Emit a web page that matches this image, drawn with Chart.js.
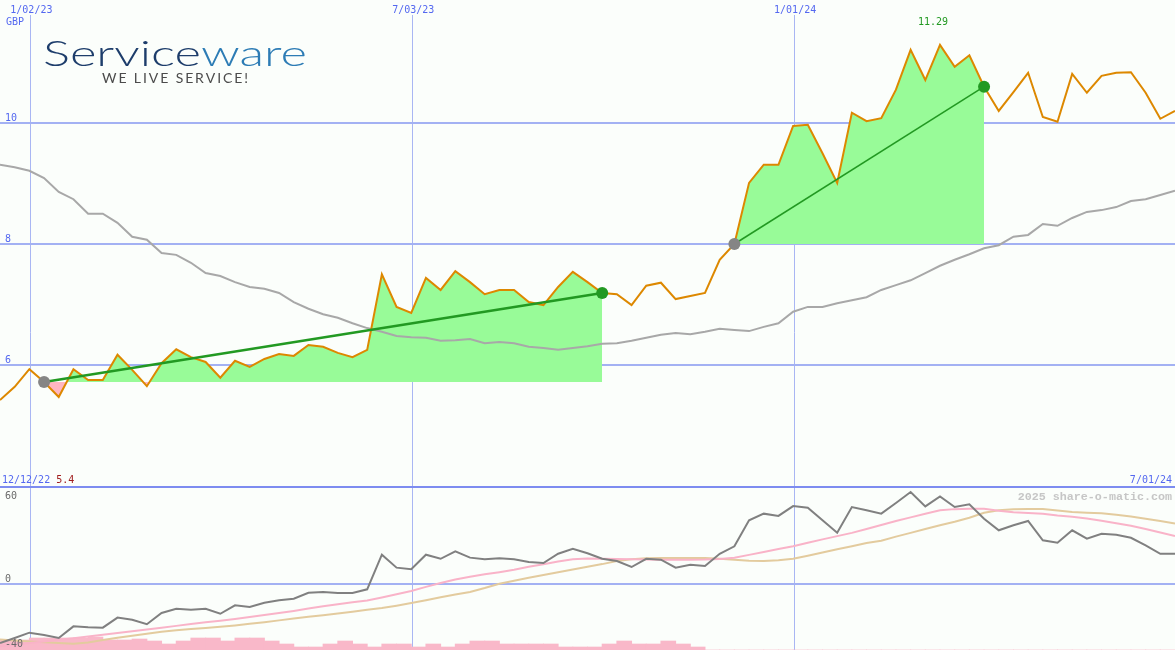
<!DOCTYPE html>
<html><head><meta charset="utf-8">
<script src="https://cdn.jsdelivr.net/npm/chart.js@4.4.1/dist/chart.umd.min.js"></script>
<style>html,body{margin:0;padding:0;background:#fbfefb;overflow:hidden}canvas{display:block}</style>
</head><body>
<canvas id="c" width="1175" height="650"></canvas>
<script>
// ---- data (weekly) ----
const dates = ['12/19/22','12/26/22','1/02/23','1/09/23','1/16/23','1/23/23','1/30/23','2/06/23','2/13/23','2/20/23','2/27/23','3/06/23','3/13/23','3/20/23','3/27/23','4/03/23','4/10/23','4/17/23','4/24/23','5/01/23','5/08/23','5/15/23','5/22/23','5/29/23','6/05/23','6/12/23','6/19/23','6/26/23','7/03/23','7/10/23','7/17/23','7/24/23','7/31/23','8/07/23','8/14/23','8/21/23','8/28/23','9/04/23','9/11/23','9/18/23','9/25/23','10/02/23','10/09/23','10/16/23','10/23/23','10/30/23','11/06/23','11/13/23','11/20/23','11/27/23','12/04/23','12/11/23','12/18/23','12/25/23','1/01/24','1/08/24','1/15/24','1/22/24','1/29/24','2/05/24','2/12/24','2/19/24','2/26/24','3/04/24','3/11/24','3/18/24','3/25/24','4/01/24','4/08/24','4/15/24','4/22/24','4/29/24','5/06/24','5/13/24','5/20/24','5/27/24','6/03/24','6/10/24','6/17/24','6/24/24','7/01/24'];
const price = [5.42,5.64,5.93,5.72,5.47,5.93,5.75,5.75,6.17,5.92,
  5.65,6.03,6.26,6.13,6.05,5.79,6.07,5.97,6.10,6.18,
  6.15,6.33,6.30,6.20,6.13,6.25,7.50,6.96,6.86,7.44,
  7.24,7.55,7.37,7.17,7.24,7.24,7.04,6.99,7.29,7.54,
  7.37,7.19,7.17,6.99,7.31,7.36,7.09,7.14,7.19,7.74,
  8.00,9.01,9.31,9.31,9.95,9.97,9.50,9.01,10.17,10.03,
  10.08,10.55,11.21,10.71,11.29,10.93,11.12,10.60,10.20,10.51,
  10.83,10.10,10.02,10.81,10.50,10.78,10.83,10.84,10.50,10.07,10.20];
const movingAvg = [9.31,9.27,9.21,9.09,8.86,8.74,8.50,8.50,8.35,8.12,
  8.07,7.85,7.82,7.69,7.52,7.47,7.37,7.29,7.26,7.19,
  7.04,6.93,6.84,6.78,6.69,6.61,6.55,6.48,6.46,6.45,
  6.40,6.41,6.43,6.36,6.38,6.36,6.30,6.28,6.25,6.28,
  6.31,6.35,6.36,6.40,6.45,6.50,6.53,6.51,6.55,6.60,
  6.58,6.56,6.63,6.69,6.88,6.96,6.96,7.02,7.07,7.12,
  7.24,7.32,7.40,7.52,7.64,7.74,7.83,7.93,7.98,8.12,
  8.15,8.33,8.30,8.43,8.53,8.56,8.61,8.71,8.74,8.81,8.88];
const momentum = [-36.5,-33.4,-30.1,-31.5,-33.4,-26.2,-26.8,-27.0,-20.8,-22.1,
  -24.9,-17.9,-15.3,-15.9,-15.3,-18.4,-13.2,-14.2,-11.6,-10.1,
  -9.1,-5.4,-4.9,-5.6,-5.6,-3.3,18.1,10.1,9.1,18.1,
  15.6,20.2,16.3,15.3,15.9,15.3,13.6,13.0,18.7,21.8,
  19.0,15.6,14.2,10.5,15.6,15.0,10.1,11.9,11.1,18.7,
  23.3,39.4,43.5,42.1,48.2,47.2,39.4,31.7,47.6,45.6,
  43.5,50.1,56.9,48.0,54.2,47.6,49.3,40.4,33.2,36.3,
  39.0,27.0,25.5,33.2,28.0,31.1,30.5,28.6,23.9,18.7,18.7];
const signalPink = [-38.5,-37.5,-36.5,-35.5,-34.5,-33.5,-32.5,-31.4,-30.3,-29.2,
  -28.1,-27.0,-25.9,-24.8,-23.7,-22.7,-21.6,-20.4,-19.2,-18.0,
  -16.7,-15.2,-13.8,-12.5,-11.3,-10.2,-8.3,-6.3,-4.3,-1.8,
  0.6,2.8,4.5,6.0,7.3,8.8,10.6,12.2,13.9,15.3,
  15.7,15.6,15.5,15.3,15.1,15.0,15.0,15.0,15.1,15.5,
  16.3,18.0,19.8,21.6,23.3,25.5,27.6,29.6,31.6,34.0,
  36.5,39.0,41.2,43.4,45.6,46.3,46.6,46.6,45.3,44.3,
  43.9,43.5,42.3,41.6,40.5,39.1,37.6,36.0,34.0,31.8,29.7];
const signalTan = [-34.4,-35.0,-35.6,-36.0,-36.5,-36.9,-36.2,-34.7,-33.3,-32.0,
  -30.8,-29.6,-28.6,-27.9,-27.2,-26.4,-25.6,-24.6,-23.6,-22.5,
  -21.4,-20.3,-19.3,-18.2,-17.1,-16.0,-14.9,-13.4,-11.8,-10.0,
  -8.2,-6.5,-4.9,-2.5,0.2,2.0,3.8,5.6,7.3,9.0,
  10.7,12.3,14.2,15.3,15.9,16.1,16.1,16.1,16.1,15.6,
  15.0,14.4,14.2,14.7,15.6,17.5,19.5,21.5,23.4,25.4,
  26.8,29.3,31.6,34.0,36.3,38.5,41.0,44.0,45.6,46.2,
  46.4,46.4,45.5,44.5,44.0,43.7,42.8,41.7,40.3,38.9,37.4];
const volume = [20,20,24,24,24,24,26,20,20,22,
  18,12,18,24,24,18,24,24,18,12,
  6,6,12,18,12,6,12,12,6,12,
  6,12,18,18,12,12,12,12,6,6,
  6,12,18,12,12,18,12,6,0,0,
  0,0,0,0,0,0,0,0,0,0,
  0,0,0,0,0,0,0,0,0,0,
  0,0,0,0,0,0,0,0,0,0];
const priceTicks = [6, 8, 10];
const lowerTicks = [60, 0, -40];
const dateTicks = ['1/02/23', '7/03/23', '1/01/24'];
const rise1 = ['1/09/23', '10/02/23'];
const rise2 = ['12/04/23', '4/01/24'];
const currency = 'GBP';
const firstDateLabel = '12/12/22';
const lowLabel = '5.4';
const logoParts = ['Service', 'ware'];
const tagline = 'WE LIVE SERVICE!';
const watermark = '2025 share-o-matic.com';

// ---- derived datasets ----
const s1 = dates.indexOf(rise1[0]), e1 = dates.indexOf(rise1[1]);
const s2 = dates.indexOf(rise2[0]), e2 = dates.indexOf(rise2[1]);
const seg = (s, e) => price.map((v, i) => (i >= s && i <= e) ? v : null);
const ends = (s, e) => price.map((v, i) => (i === s || i === e) ? v : null);
const maxIdx = price.indexOf(Math.max(...price));

const BLUE = '#5468f0';
const MONO = '"DejaVu Sans Mono", monospace';

const trendDs = (s, e, w) => ({
  data: ends(s, e), borderColor: '#229922', borderWidth: w, spanGaps: true, order: 1,
  pointRadius: c => c.raw == null ? 0 : 6,
  pointBackgroundColor: c => c.dataIndex === s ? '#858585' : '#229922',
  pointBorderWidth: 0
});
const fillDs = (s, e) => ({
  data: seg(s, e), borderWidth: 0, borderColor: 'rgba(0,0,0,0)', order: 6,
  fill: { target: { value: price[s] }, above: '#98fb98', below: '#ffb6c1' }
});

const panelPlugin = {
  id: 'panel',
  beforeDatasetsDraw(chart) {
    const { ctx, chartArea: a, scales } = chart;
    ctx.save();
    ctx.strokeStyle = '#a9b6f3'; ctx.lineWidth = 1;
    dateTicks.forEach(d => {
      const px = Math.floor(scales.x.getPixelForValue(dates.indexOf(d))) + 1.5;
      ctx.beginPath(); ctx.moveTo(px, 15); ctx.lineTo(px, a.bottom); ctx.stroke();
    });
    ctx.strokeStyle = '#a3b1f3'; ctx.lineWidth = 2;
    priceTicks.forEach(t => {
      const py = Math.round(scales.y.getPixelForValue(t));
      ctx.beginPath(); ctx.moveTo(a.left, py); ctx.lineTo(a.right, py); ctx.stroke();
    });
    const pz = Math.round(scales.yb.getPixelForValue(0));
    ctx.beginPath(); ctx.moveTo(a.left, pz); ctx.lineTo(a.right, pz); ctx.stroke();
    const ps = Math.round(scales.yb.getPixelForValue(lowerTicks[0]));
    ctx.strokeStyle = '#7d8cf0';
    ctx.beginPath(); ctx.moveTo(a.left, ps); ctx.lineTo(a.right, ps); ctx.stroke();
    ctx.restore();
  },
  afterDraw(chart) {
    const { ctx, scales } = chart;
    ctx.save();
    ctx.font = '10px ' + MONO;
    ctx.textBaseline = 'alphabetic';
    ctx.fillStyle = BLUE; ctx.textAlign = 'center';
    dateTicks.forEach(d => {
      const px = scales.x.getPixelForValue(dates.indexOf(d)) + 2;
      ctx.fillText(d, px, 13);
    });
    ctx.textAlign = 'left';
    ctx.fillText(currency, 6, 25);
    priceTicks.forEach(t => ctx.fillText(String(t), 5, Math.round(scales.y.getPixelForValue(t)) - 2));
    const ps = Math.round(scales.yb.getPixelForValue(lowerTicks[0]));
    ctx.fillText(firstDateLabel, 2, ps - 4);
    const w0 = ctx.measureText(firstDateLabel + ' ').width;
    ctx.fillStyle = '#a01c1c'; ctx.fillText(lowLabel, 2 + w0, ps - 4);
    ctx.fillStyle = BLUE; ctx.textAlign = 'right';
    ctx.fillText(dates[dates.length - 1], 1172, ps - 4);
    ctx.textAlign = 'left'; ctx.fillStyle = '#6a6a6a';
    lowerTicks.forEach(t => {
      const py = scales.yb.getPixelForValue(t);
      const by = (py - 10 < ps) ? py + 12 : py - 2;
      ctx.fillText(String(t), 5, Math.round(by));
    });
    ctx.fillStyle = '#229922'; ctx.textAlign = 'center';
    ctx.fillText(price[maxIdx].toFixed(2), scales.x.getPixelForValue(maxIdx) - 7, 25);
    ctx.font = 'bold 11.7px "Liberation Mono", monospace';
    ctx.fillStyle = '#c6c6c6'; ctx.textAlign = 'right';
    ctx.fillText(watermark, 1172, ps + 13);
    // logo
    ctx.textAlign = 'left';
    ctx.font = '300 36px Lato, "Open Sans", sans-serif';
    const lw1 = ctx.measureText(logoParts[0]).width, lw2 = ctx.measureText(logoParts[1]).width;
    const sx = 264 / (lw1 + lw2);
    ctx.save(); ctx.translate(43, 66); ctx.scale(sx, 1);
    ctx.fillStyle = '#1d3d6b'; ctx.fillText(logoParts[0], 0, 0);
    ctx.fillStyle = '#2d7cb5'; ctx.fillText(logoParts[1], lw1, 0);
    ctx.restore();
    ctx.font = '14px Lato, "Open Sans", sans-serif';
    ctx.fillStyle = '#4b4b4b';
    const chars = tagline.split('');
    const nat = chars.reduce((s, ch) => s + ctx.measureText(ch).width, 0);
    const sp = (146 - nat) / (chars.length - 1);
    let tx = 102;
    chars.forEach(ch => { ctx.fillText(ch, tx, 83); tx += ctx.measureText(ch).width + sp; });
    ctx.restore();
  }
};

new Chart(document.getElementById('c'), {
  type: 'line',
  data: {
    labels: dates,
    datasets: [
      { type: 'bar', data: volume, xAxisID: 'xv', yAxisID: 'yv', backgroundColor: '#f9b8c9',
        borderWidth: 0, barPercentage: 1, categoryPercentage: 1, barThickness: 15, grouped: false, order: 20 },
      { data: signalTan, yAxisID: 'yb', borderColor: '#e3cb9e', borderWidth: 2, order: 12 },
      { data: signalPink, yAxisID: 'yb', borderColor: '#f9b3c8', borderWidth: 2, order: 11 },
      { data: momentum, yAxisID: 'yb', borderColor: '#808080', borderWidth: 2, order: 10 },
      fillDs(s1, e1),
      fillDs(s2, e2),
      { data: movingAvg, borderColor: '#a8a8a8', borderWidth: 2, order: 5 },
      { data: price, borderColor: '#dd8800', borderWidth: 2, order: 4 },
      trendDs(s1, e1, 2.5),
      trendDs(s2, e2, 1.5)
    ]
  },
  options: {
    responsive: false, animation: false, devicePixelRatio: 1,
    layout: { padding: 0 },
    elements: { point: { radius: 0, hoverRadius: 0 }, line: { tension: 0 } },
    plugins: { legend: { display: false }, tooltip: { enabled: false } },
    events: [],
    scales: {
      x: { type: 'category', display: false, offset: false },
      xv: { type: 'category', labels: dates.slice(0, dates.length - 1), display: false, offset: true },
      y: { display: false, min: 1.289, max: 12.033 },
      yb: { display: false, min: -40.82, max: 361.16 },
      yv: { display: false, min: 0, max: 1300 }
    }
  },
  plugins: [panelPlugin]
});
</script>
</body></html>
